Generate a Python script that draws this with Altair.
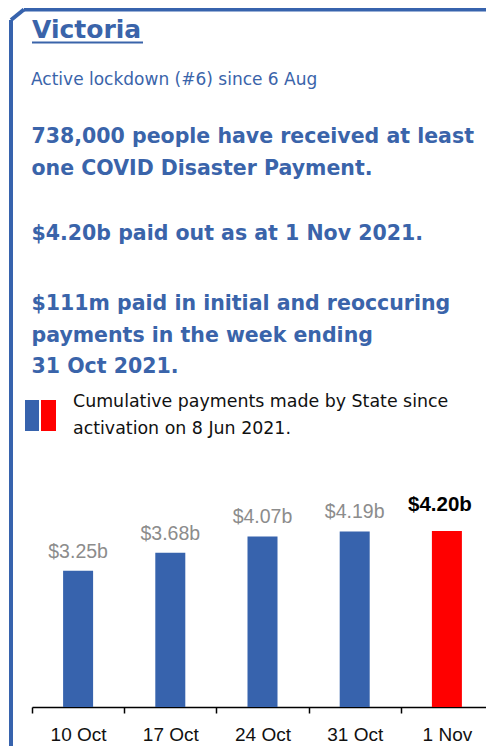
import altair as alt
import pandas as pd

# ---- data ----
dates = ["10 Oct", "17 Oct", "24 Oct", "31 Oct", "1 Nov"]
values = [3.25, 3.68, 4.07, 4.19, 4.20]
labels = ["$3.25b", "$3.68b", "$4.07b", "$4.19b", "$4.20b"]
kinds = ["week", "week", "week", "week", "latest"]

title_text = "Victoria"
subtitle_text = "Active lockdown (#6) since 6 Aug"
para1 = ["738,000 people have received at least", "one COVID Disaster Payment."]
para2 = ["$4.20b paid out as at 1 Nov 2021."]
para3 = ["$111m paid in initial and reoccuring", "payments in the week ending", "31 Oct 2021."]
legend_text = ["Cumulative payments made by State since", "activation on 8 Jun 2021."]

# ---- styles ----
BLUE = "#3763ad"
TEXT_BLUE = "#3a64aa"
RED = "#ff0000"
GRAY = "#8c8c8c"
HEAD_FONT = "DejaVu Sans"
CHART_FONT = "Liberation Sans"

df = pd.DataFrame({"date": dates, "value": values, "label": labels, "kind": kinds})
one = pd.DataFrame({"k": [0]})

x_enc = alt.X(
    "date:N", sort=dates,
    scale=alt.Scale(range=[24, 485], paddingInner=0, paddingOuter=0),
    axis=alt.Axis(title=None, tickBand="extent", tickSize=6, tickWidth=1.5,
                  tickColor="#000", domainColor="#000", domainWidth=1.5,
                  labelFont=CHART_FONT, labelFontSize=19, labelColor="#111",
                  labelAngle=0, labelBaseline="alphabetic", labelPadding=27,
                  grid=False),
)
y_enc = alt.Y("value:Q", scale=alt.Scale(domain=[0, 4.2], range=[699, 523], nice=False, zero=True), axis=None)

base = alt.Chart(df)
bars = base.mark_bar(size=30).encode(
    x=x_enc, y=y_enc,
    color=alt.Color("kind:N", scale=alt.Scale(domain=["week", "latest"], range=[BLUE, RED]), legend=None),
)
gray_labels = base.transform_filter(alt.datum.kind == "week").mark_text(
    font=CHART_FONT, fontSize=19.5, color=GRAY, baseline="alphabetic", dy=-13
).encode(x=x_enc, y=y_enc, text="label:N")
bold_label = base.transform_filter(alt.datum.kind == "latest").mark_text(
    font=CHART_FONT, fontSize=20.5, fontWeight="bold", color="#000", baseline="alphabetic", dy=-20, dx=-7
).encode(x=x_enc, y=y_enc, text="label:N")

def rule(x, y, x2=None, y2=None, color=BLUE, width=4):
    enc = dict(x=alt.value(x), y=alt.value(y))
    if x2 is not None:
        enc["x2"] = alt.value(x2)
    if y2 is not None:
        enc["y2"] = alt.value(y2)
    return alt.Chart(one).mark_rule(color=color, strokeWidth=width).encode(**enc)

def text(lines, x, y, size, weight="normal", color=TEXT_BLUE, font=HEAD_FONT, lh=None):
    kw = dict(align="left", baseline="alphabetic", font=font, fontSize=size, fontWeight=weight, color=color)
    if lh is not None:
        kw["lineHeight"] = lh
    return alt.Chart(one).mark_text(**kw).encode(x=alt.value(x), y=alt.value(y), text=alt.value(lines))

frame_top = rule(16, 1.5, x2=478)
frame_left = rule(3, 12, y2=738)
frame_diag = rule(3, 12, x2=16, y2=1.5)
underline = rule(24, 34.5, x2=135, color=TEXT_BLUE, width=2)

t_title = text(title_text, 24, 30, 25, weight="bold")
t_sub = text(subtitle_text, 23, 77, 17)
t_p1 = text(para1, 23.5, 135, 20.5, weight="bold", lh=32)
t_p2 = text(para2, 23.5, 232, 20.5, weight="bold")
t_p3 = text(para3, 23.5, 302, 20.5, weight="bold", lh=31.5)
t_leg = text(legend_text, 65, 399, 17.4, color="#111", lh=27)

leg_blue = alt.Chart(one).mark_rect(color=BLUE).encode(
    x=alt.value(17), x2=alt.value(31), y=alt.value(392), y2=alt.value(423))
leg_red = alt.Chart(one).mark_rect(color=RED).encode(
    x=alt.value(33), x2=alt.value(48), y=alt.value(392), y2=alt.value(423))

chart = alt.layer(
    bars, gray_labels, bold_label,
    frame_top, frame_left, frame_diag, underline,
    t_title, t_sub, t_p1, t_p2, t_p3, t_leg, leg_blue, leg_red,
).properties(
    width=478, height=699,
    padding={"top": 0, "left": 0, "right": 0, "bottom": 39},
    autosize=alt.AutoSizeParams(type="none"),
).configure_view(stroke=None)

chart.save("out.html", embed_options={"renderer": "svg", "actions": False})
